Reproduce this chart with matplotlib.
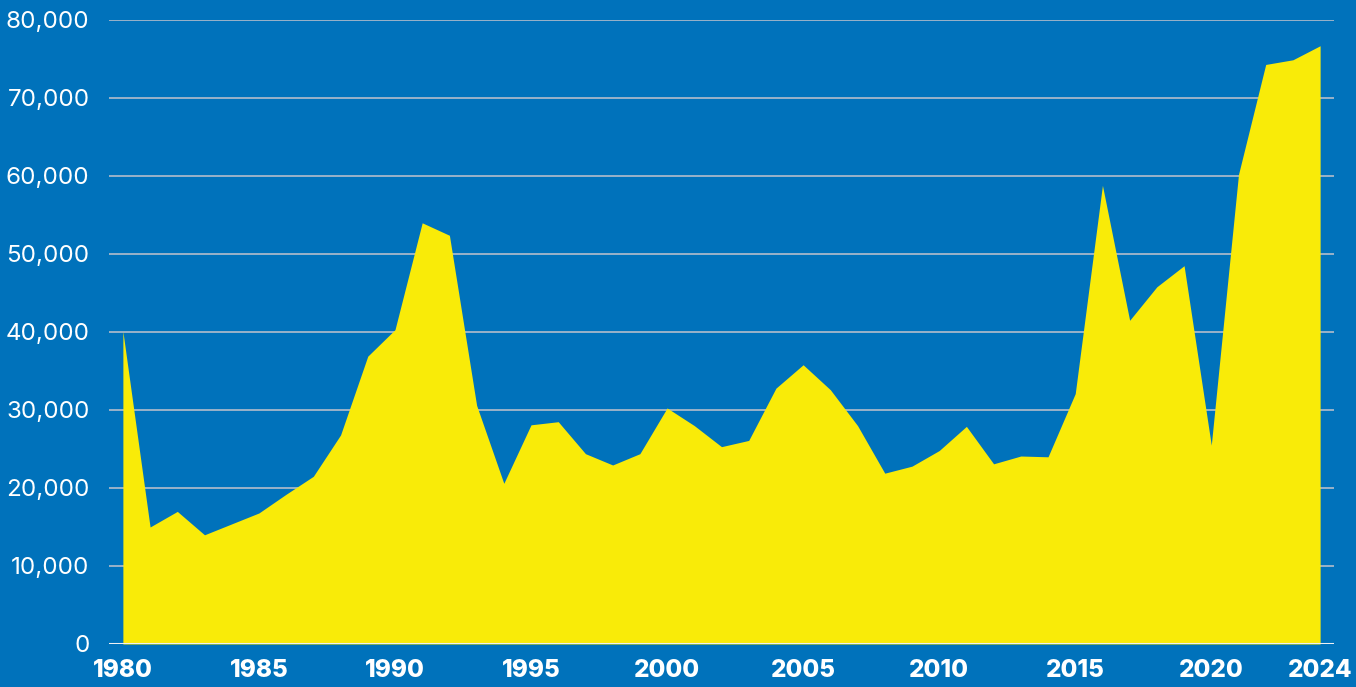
import matplotlib
matplotlib.use("Agg")
import matplotlib.pyplot as plt
from matplotlib.ticker import FuncFormatter

years = list(range(1980, 2025))
values = [40100, 15000, 17000, 14000, 15400, 16800, 19200, 21500, 26800, 36900,
          40300, 54000, 52400, 30600, 20600, 28100, 28500, 24400, 22950, 24400,
          30260, 28000, 25300, 26100, 32800, 35800, 32600, 28000, 21900, 22800,
          24800, 27900, 23100, 24100, 24000, 32100, 58800, 41500, 45800, 48500,
          25500, 60200, 74300, 74900, 76700]
x_ticks = [1980, 1985, 1990, 1995, 2000, 2005, 2010, 2015, 2020, 2024]
y_ticks = [0, 10000, 20000, 30000, 40000, 50000, 60000, 70000, 80000]

BLUE = "#0072BB"
YELLOW = "#F9EB08"

fig = plt.figure(figsize=(13.56, 6.87), dpi=100, facecolor=BLUE)
ax = fig.add_axes([109/1356, 1 - 644/687, (1334-109)/1356, (644-20)/687])
ax.set_facecolor(BLUE)

ax.set_xlim(1979.49, 2024.51)
ax.set_ylim(0, 80000)

for yt in y_ticks[1:]:
    ax.axhline(yt, color="#B4BDCB", lw=1.2, zorder=1)
ax.fill_between(years, values, 0, color=YELLOW, lw=0, zorder=2)
ax.axhline(0, color="#EEF0F4", lw=2.2, zorder=3)

for s in ax.spines.values():
    s.set_visible(False)

ax.set_xticks(x_ticks)
ax.set_xticklabels([str(t) for t in x_ticks], fontfamily="Inter", fontweight="heavy",
                   fontsize=17.5, color="white")
ax.set_yticks(y_ticks)
ax.yaxis.set_major_formatter(FuncFormatter(lambda v, p: f"{int(v):,}"))
for lab in ax.get_yticklabels():
    lab.set_fontfamily("Inter")
    lab.set_fontsize(17.4)
    lab.set_color("white")
ax.tick_params(axis="both", length=0)
ax.tick_params(axis="y", pad=14)
ax.tick_params(axis="x", pad=11)

fig.savefig("out.png", dpi=100, facecolor=BLUE)
